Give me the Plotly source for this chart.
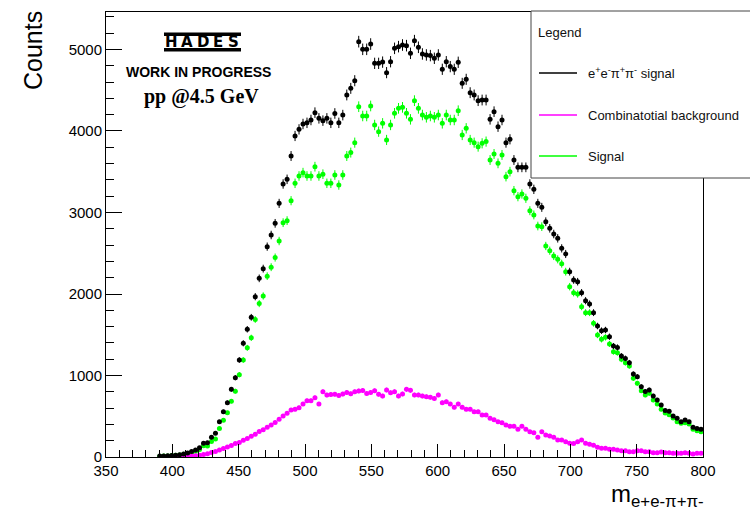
import plotly.graph_objects as go

# ---- data (3 MeV bins, bin centres) ----
bin_width = 3.0
black_start = 390.5
black_counts = [
    12, 12, 14, 18, 22, 28, 38, 48, 66, 86,
    115, 168, 176, 241, 290, 434, 556, 667, 830, 973,
    1190, 1395, 1567, 1714, 1967, 2192, 2311, 2581, 2724, 2867,
    3112, 3350, 3407, 3693, 3939, 4020, 4086, 4100, 4135, 4225,
    4155, 4127, 4155, 4100, 4215, 4100, 4195, 4442, 4523, 4617,
    5096, 5002, 5002, 5067, 4830, 4830, 4845, 4716, 4850, 5014,
    5035, 5055, 5047, 4953, 5108, 5027, 4945, 4933, 4925, 4892,
    4933, 4757, 4850, 4790, 4757, 4843, 4585, 4634, 4470, 4442,
    4372, 4380, 4380, 4143, 4237, 4053, 4135, 3857, 3898, 3644,
    3554, 3554, 3554, 3350, 3284, 3112, 3063, 2887, 2806, 2736,
    2683, 2560, 2491, 2274, 2172, 2151, 2016, 1918, 1877, 1771,
    1607, 1550, 1558, 1476, 1362, 1345, 1239, 1210, 1157, 1018,
    986, 863, 803, 822, 748, 699, 638, 572, 560, 503,
    474, 433, 454, 433, 364, 351, 339,
]
green_start = 390.5
green_counts = [
    10, 12, 13, 18, 21, 26, 34, 42, 56, 71,
    93, 138, 136, 189, 222, 349, 451, 542, 685, 808,
    1010, 1190, 1339, 1462, 1687, 1882, 1976, 2219, 2329, 2447,
    2650, 2875, 2900, 3145, 3358, 3448, 3489, 3448, 3448, 3562,
    3448, 3470, 3358, 3358, 3460, 3337, 3460, 3693, 3735, 3857,
    4298, 4184, 4184, 4307, 4074, 3992, 4094, 3890, 4074, 4217,
    4278, 4290, 4217, 4143, 4372, 4278, 4196, 4168, 4184, 4168,
    4196, 4094, 4196, 4135, 4135, 4249, 3951, 4033, 3890, 3857,
    3808, 3849, 3870, 3644, 3718, 3603, 3706, 3440, 3501, 3268,
    3194, 3227, 3174, 3022, 2970, 2834, 2826, 2589, 2531, 2466,
    2425, 2372, 2274, 2090, 2016, 2000, 1844, 1771, 1771, 1640,
    1497, 1444, 1468, 1387, 1292, 1280, 1198, 1157, 1117, 965,
    904, 814, 761, 781, 699, 651, 585, 540, 519, 479,
    433, 413, 421, 405, 339, 323, 310,
]
pink_start = 402.5
pink_counts = [
    1, 2, 4, 7, 11, 16,
    22, 31, 40, 54, 66, 85, 104, 124, 142, 166,
    178, 206, 226, 255, 278, 312, 333, 365, 392, 424,
    462, 503, 536, 577, 585, 605, 650, 691, 691, 728,
    650, 802, 760, 768, 770, 755, 772, 790, 775, 800,
    810, 815, 780, 790, 812, 770, 748, 822, 789, 801,
    748, 773, 830, 818, 761, 761, 748, 740, 732, 719,
    761, 667, 679, 650, 609, 650, 609, 585, 585, 556,
    556, 515, 515, 474, 458, 433, 421, 393, 376, 376,
    339, 376, 339, 311, 298, 241, 311, 270, 258, 241,
    209, 209, 188, 168, 165, 188, 209, 168, 155, 143,
    119, 106, 106, 94, 94, 86, 78, 78, 65, 65,
    78, 78, 65, 65, 53, 53, 61, 53, 53, 45,
    45, 45, 53, 45, 37, 45, 45,
]

legend_labels = ["e<sup>+</sup>e<sup>-</sup>π<sup>+</sup>π<sup>-</sup> signal",
                 "Combinatotial background", "Signal"]
x_ticks = [350, 400, 450, 500, 550, 600, 650, 700, 750, 800]
y_ticks = [0, 1000, 2000, 3000, 4000, 5000]

BLACK = "#000000"
PINK = "#ff00ff"
GREEN = "#00ff00"


def centres(start, n):
    return [start + bin_width * i for i in range(n)]


fig = go.Figure()


def add_series(start, vals, color):
    fig.add_trace(go.Scatter(
        x=centres(start, len(vals)), y=vals, mode="markers",
        marker=dict(color=color, size=5, symbol="circle", line=dict(width=0)),
        error_y=dict(type="sqrt", color=color, thickness=1, width=0),
        showlegend=False, hoverinfo="skip"))


add_series(green_start, green_counts, GREEN)
add_series(pink_start, pink_counts, PINK)
add_series(black_start, black_counts, BLACK)

# ---- geometry helpers (pixel -> paper) ----
L, R, T, B = 106, 47, 12, 53
W, H = 750, 510
PW, PH = W - L - R, H - T - B


def px(x):
    return (x - L) / PW


def py(y):
    return (H - B - y) / PH


FONT = "Liberation Sans, Arial, Helvetica, sans-serif"

fig.update_layout(
    width=W, height=H, autosize=False,
    margin=dict(l=L, r=R, t=T, b=B, pad=0),
    paper_bgcolor="white", plot_bgcolor="white",
    font=dict(family=FONT, size=15, color="#000"),
    showlegend=False,
    xaxis=dict(range=[350, 800], tickvals=x_ticks, ticks="inside", ticklen=13,
               tickwidth=1, tickcolor="#000",
               minor=dict(dtick=10, tick0=350, ticks="inside", ticklen=7,
                          tickcolor="#000", tickwidth=1),
               showline=True, linecolor="#000", linewidth=1, mirror=True,
               showgrid=False, zeroline=False,
               tickfont=dict(family=FONT, size=15, color="#000")),
    yaxis=dict(range=[0, 5460], tickvals=y_ticks, ticks="inside", ticklen=16,
               tickwidth=1, tickcolor="#000",
               minor=dict(dtick=200, tick0=0, ticks="inside", ticklen=8,
                          tickcolor="#000", tickwidth=1),
               showline=True, linecolor="#000", linewidth=1, mirror=True,
               showgrid=False, zeroline=False,
               tickfont=dict(family=FONT, size=15, color="#000")),
)

shapes = []
annotations = []

# ---- legend box ----
shapes.append(dict(type="rect", xref="paper", yref="paper",
                   x0=px(531), x1=px(760), y0=py(178), y1=py(11),
                   fillcolor="white", line=dict(color="#444", width=1), layer="above"))
annotations.append(dict(xref="paper", yref="paper", x=px(536), y=py(32),
                        xanchor="left", yanchor="middle", showarrow=False,
                        text="Legend", font=dict(family=FONT, size=13, color="#111")))
for lbl, col, yy in zip(legend_labels, [BLACK, PINK, GREEN], [73, 115, 156]):
    shapes.append(dict(type="line", xref="paper", yref="paper",
                       x0=px(539), x1=px(577), y0=py(yy), y1=py(yy),
                       line=dict(color=col, width=1.6), layer="above"))
    annotations.append(dict(xref="paper", yref="paper", x=px(586), y=py(yy),
                            xanchor="left", yanchor="middle", showarrow=False,
                            text=lbl, font=dict(family=FONT, size=13, color="#111")))

# ---- HADES logo ----
shapes.append(dict(type="rect", xref="paper", yref="paper",
                   x0=px(164), x1=px(241), y0=py(36), y1=py(32.5),
                   fillcolor="#000", line=dict(width=0), layer="above"))
shapes.append(dict(type="rect", xref="paper", yref="paper",
                   x0=px(164), x1=px(241), y0=py(51.5), y1=py(48),
                   fillcolor="#000", line=dict(width=0), layer="above"))
for ch, cx in zip("HADES", [171.5, 187, 202.5, 218, 233.5]):
    annotations.append(dict(xref="paper", yref="paper", x=px(cx), y=py(42.3),
                            xanchor="center", yanchor="middle", showarrow=False,
                            text="<b>%s</b>" % ch,
                            font=dict(family="DejaVu Sans", size=15, color="#000")))

annotations.append(dict(xref="paper", yref="paper", x=px(198), y=py(72),
                        xanchor="center", yanchor="middle", showarrow=False,
                        text="<b>WORK IN PROGRESS</b>",
                        font=dict(family=FONT, size=14, color="#000")))
annotations.append(dict(xref="paper", yref="paper", x=px(201), y=py(96),
                        xanchor="center", yanchor="middle", showarrow=False,
                        text="<b>pp @4.5 GeV</b>",
                        font=dict(family="Liberation Serif, Times New Roman, serif",
                                  size=20, color="#000")))

# ---- axis titles ----
annotations.append(dict(xref="paper", yref="paper", x=px(33), y=py(51),
                        xanchor="center", yanchor="middle", showarrow=False,
                        textangle=-90, text="Counts",
                        font=dict(family=FONT, size=25, color="#000")))
annotations.append(dict(xref="paper", yref="paper", x=px(706), y=py(496),
                        xanchor="right", yanchor="middle", showarrow=False,
                        text="m<sub>e+e-π+π-</sub>",
                        font=dict(family=FONT, size=24, color="#000")))

fig.update_layout(shapes=shapes, annotations=annotations)
fig.write_html("out.html")
